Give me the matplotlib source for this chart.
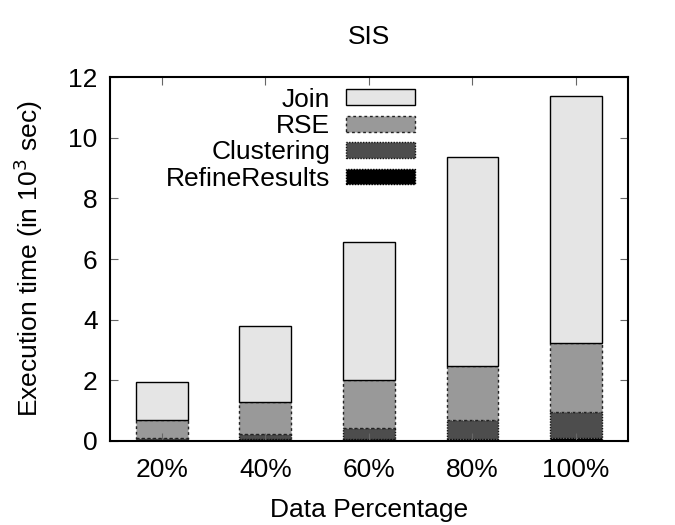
import matplotlib.pyplot as plt
import numpy as np

plt.rcParams['font.family'] = ['Liberation Sans', 'DejaVu Sans']

# data (in 10^3 sec)
categories = ["20%", "40%", "60%", "80%", "100%"]
refine = [0.03, 0.05, 0.07, 0.08, 0.10]
clustering = [0.07, 0.18, 0.36, 0.61, 0.86]
rse = [0.59, 1.06, 1.58, 1.78, 2.27]
join = [1.26, 2.51, 4.55, 6.89, 8.14]

series_names = ["Join", "RSE", "Clustering", "RefineResults"]

fig = plt.figure(figsize=(6.75, 5.25), dpi=100)
ax = fig.add_axes([0.163, 0.16, 0.767, 0.693])

x = np.arange(len(categories))
w = 0.5
fs = 19

# stacked from bottom: refine, clustering, rse, join
b0 = np.zeros(len(categories))
h_ref = ax.bar(x, refine, w, bottom=b0, color="#000000", edgecolor="#000000",
               linestyle=(0, (1, 1)), linewidth=1)
b1 = b0 + np.array(refine)
h_clu = ax.bar(x, clustering, w, bottom=b1, color="#4d4d4d", edgecolor="#111111",
               linestyle=(0, (1, 1)), linewidth=1)
b2 = b1 + np.array(clustering)
h_rse = ax.bar(x, rse, w, bottom=b2, color="#999999", edgecolor="#222222",
               linestyle=(0, (2, 2)), linewidth=1)
b3 = b2 + np.array(rse)
h_join = ax.bar(x, join, w, bottom=b3, color="#e5e5e5", edgecolor="#000000",
                linewidth=1)

ax.set_xlim(-0.5, 4.5)
ax.set_ylim(0, 12)
ax.set_yticks(range(0, 13, 2))
ax.set_xticks(x)
ax.set_xticklabels(categories)
ax.tick_params(axis='both', direction='in', labelsize=fs, length=6,
               top=True, right=True, color='#666666')
ax.tick_params(axis='x', pad=12)
ax.tick_params(axis='y', pad=9)
for s in ax.spines.values():
    s.set_linewidth(1.5)

ax.set_title("SIS", fontsize=fs, pad=24)
ax.set_xlabel("Data Percentage", fontsize=fs, labelpad=12)
ax.set_ylabel("Execution time (in 10$^3$ sec)", fontsize=fs, labelpad=17)

leg = ax.legend([h_join, h_rse, h_clu, h_ref], series_names, loc='upper right',
                bbox_to_anchor=(0.609, 1.0), borderaxespad=0, frameon=False,
                fontsize=fs, markerfirst=False, handlelength=2.6,
                handleheight=0.55, labelspacing=0.09, handletextpad=0.6)
for t in leg.get_texts():
    t.set_ha('right')

fig.savefig("out.png", dpi=100)
